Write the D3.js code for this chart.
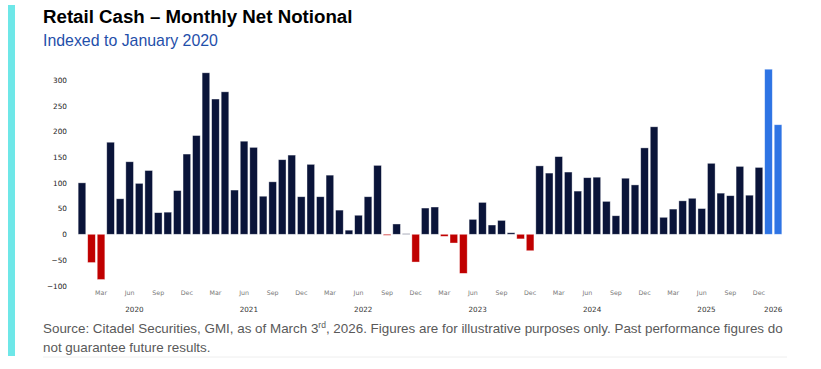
<!DOCTYPE html>
<html>
<head>
<meta charset="utf-8">
<script src="https://cdn.jsdelivr.net/npm/d3@7"></script>
<style>
  html, body { margin: 0; padding: 0; background: #fff; }
  svg { display: block; }
</style>
</head>
<body>
<svg id="chart" width="821" height="369"></svg>
<script>
// ---- data ----
const startYear = 2020;
const values = [
  // 2020
  100, -55, -88, 179, 69, 141, 99, 124, 42, 43, 85, 156,
  // 2021
  192, 314, 263, 277, 86, 181, 169, 74, 102, 145, 154, 73,
  // 2022
  136, 73, 115, 47, 8, 37, 73, 134, -2, 20, 1, -54,
  // 2023
  51, 53, -4, -17, -76, 29, 62, 18, 27, 3, -9, -32,
  // 2024
  133, 119, 151, 121, 84, 110, 111, 64, 36, 109, 96, 168,
  // 2025
  209, 33, 49, 65, 70, 50, 138, 80, 75, 132, 76, 130,
  // 2026
  321, 213
];
const highlightFrom = 72; // Jan 2026 onwards drawn in blue
const monthNames = ["Jan","Feb","Mar","Apr","May","Jun","Jul","Aug","Sep","Oct","Nov","Dec"];
const monthTickIdx = [2, 5, 8, 11];   // Mar, Jun, Sep, Dec
const yTicks = [-100, -50, 0, 50, 100, 150, 200, 250, 300];
const years = [2020, 2021, 2022, 2023, 2024, 2025, 2026];

const data = values.map((v, i) => ({
  i, v,
  year: startYear + Math.floor(i / 12),
  month: i % 12
}));

const svg = d3.select("#chart");

// left accent bar
svg.append("rect").attr("x", 8).attr("y", 5).attr("width", 7).attr("height", 351)
  .attr("fill", "#6ee7e8");

// title
svg.append("text").attr("x", 43).attr("y", 23)
  .attr("font-family", "Liberation Sans, Arial, sans-serif")
  .attr("font-weight", "bold").attr("font-size", 18.7).attr("fill", "#000")
  .text("Retail Cash \u2013 Monthly Net Notional");
svg.append("text").attr("x", 43).attr("y", 46)
  .attr("font-family", "Liberation Sans, Arial, sans-serif")
  .attr("font-size", 15.9).attr("fill", "#1f4faa")
  .text("Indexed to January 2020");

// scales
const x = d3.scaleBand()
  .domain(data.map(d => d.i))
  .range([77.2, 782.8])
  .paddingInner(0.2).paddingOuter(0.1);
const y = d3.scaleLinear().domain([-100, 300]).range([285.7, 80]);

const colorFor = d => d.i >= highlightFrom ? "#2e74e4" : (d.v < 0 ? "#c00000" : "#0a1439");

svg.append("g").selectAll("rect").data(data).join("rect")
  .attr("x", d => x(d.i))
  .attr("width", x.bandwidth())
  .attr("y", d => y(Math.max(0, d.v)))
  .attr("height", d => Math.abs(y(d.v) - y(0)))
  .attr("fill", colorFor)
  .attr("stroke", "#ffffff")
  .attr("stroke-opacity", 0.55)
  .attr("stroke-width", 0.7);

// y axis labels
const yAxis = d3.axisLeft(y).tickValues(yTicks).tickSize(0).tickPadding(0)
  .tickFormat(d => d < 0 ? "\u2212" + Math.abs(d) : String(d));
const gy = svg.append("g").attr("transform", "translate(67,0)").call(yAxis);
gy.select(".domain").remove();
gy.selectAll("text").attr("font-family", "DejaVu Sans, sans-serif")
  .attr("font-size", 7.3).attr("fill", "#222");

// x axis month labels
const xAxis = d3.axisBottom(x)
  .tickValues(data.filter(d => monthTickIdx.includes(d.month)).map(d => d.i))
  .tickSize(0).tickPadding(0)
  .tickFormat(i => monthNames[i % 12]);
const gx = svg.append("g").attr("transform", "translate(0,291)").call(xAxis);
gx.select(".domain").remove();
gx.selectAll("text").attr("font-family", "DejaVu Sans, sans-serif")
  .attr("font-size", 6.3).attr("fill", "#777");

// year labels at mean position of the months of each year
svg.append("g").selectAll("text").data(years).join("text")
  .attr("x", yr => d3.mean(data.filter(d => d.year === yr), d => x(d.i) + x.bandwidth() / 2))
  .attr("y", 312)
  .attr("text-anchor", "middle")
  .attr("font-family", "DejaVu Sans, sans-serif")
  .attr("font-size", 7.2).attr("fill", "#333")
  .text(d => d);

// source
const src = svg.append("text").attr("x", 43).attr("y", 333)
  .attr("font-family", "Liberation Sans, Arial, sans-serif")
  .attr("font-size", 13.4).attr("fill", "#595959");
src.append("tspan").text("Source: Citadel Securities, GMI, as of March 3");
src.append("tspan").attr("font-size", 8.5).attr("dy", -5).text("rd");
src.append("tspan").attr("dy", 5).text(", 2026. Figures are for illustrative purposes only. Past performance figures do");
svg.append("text").attr("x", 43).attr("y", 352)
  .attr("font-family", "Liberation Sans, Arial, sans-serif")
  .attr("font-size", 13.4).attr("fill", "#595959")
  .text("not guarantee future results.");

// faint bottom rule
svg.append("line").attr("x1", 43).attr("x2", 787).attr("y1", 357).attr("y2", 357)
  .attr("stroke", "#eeeeee").attr("stroke-width", 1);
</script>
</body>
</html>
